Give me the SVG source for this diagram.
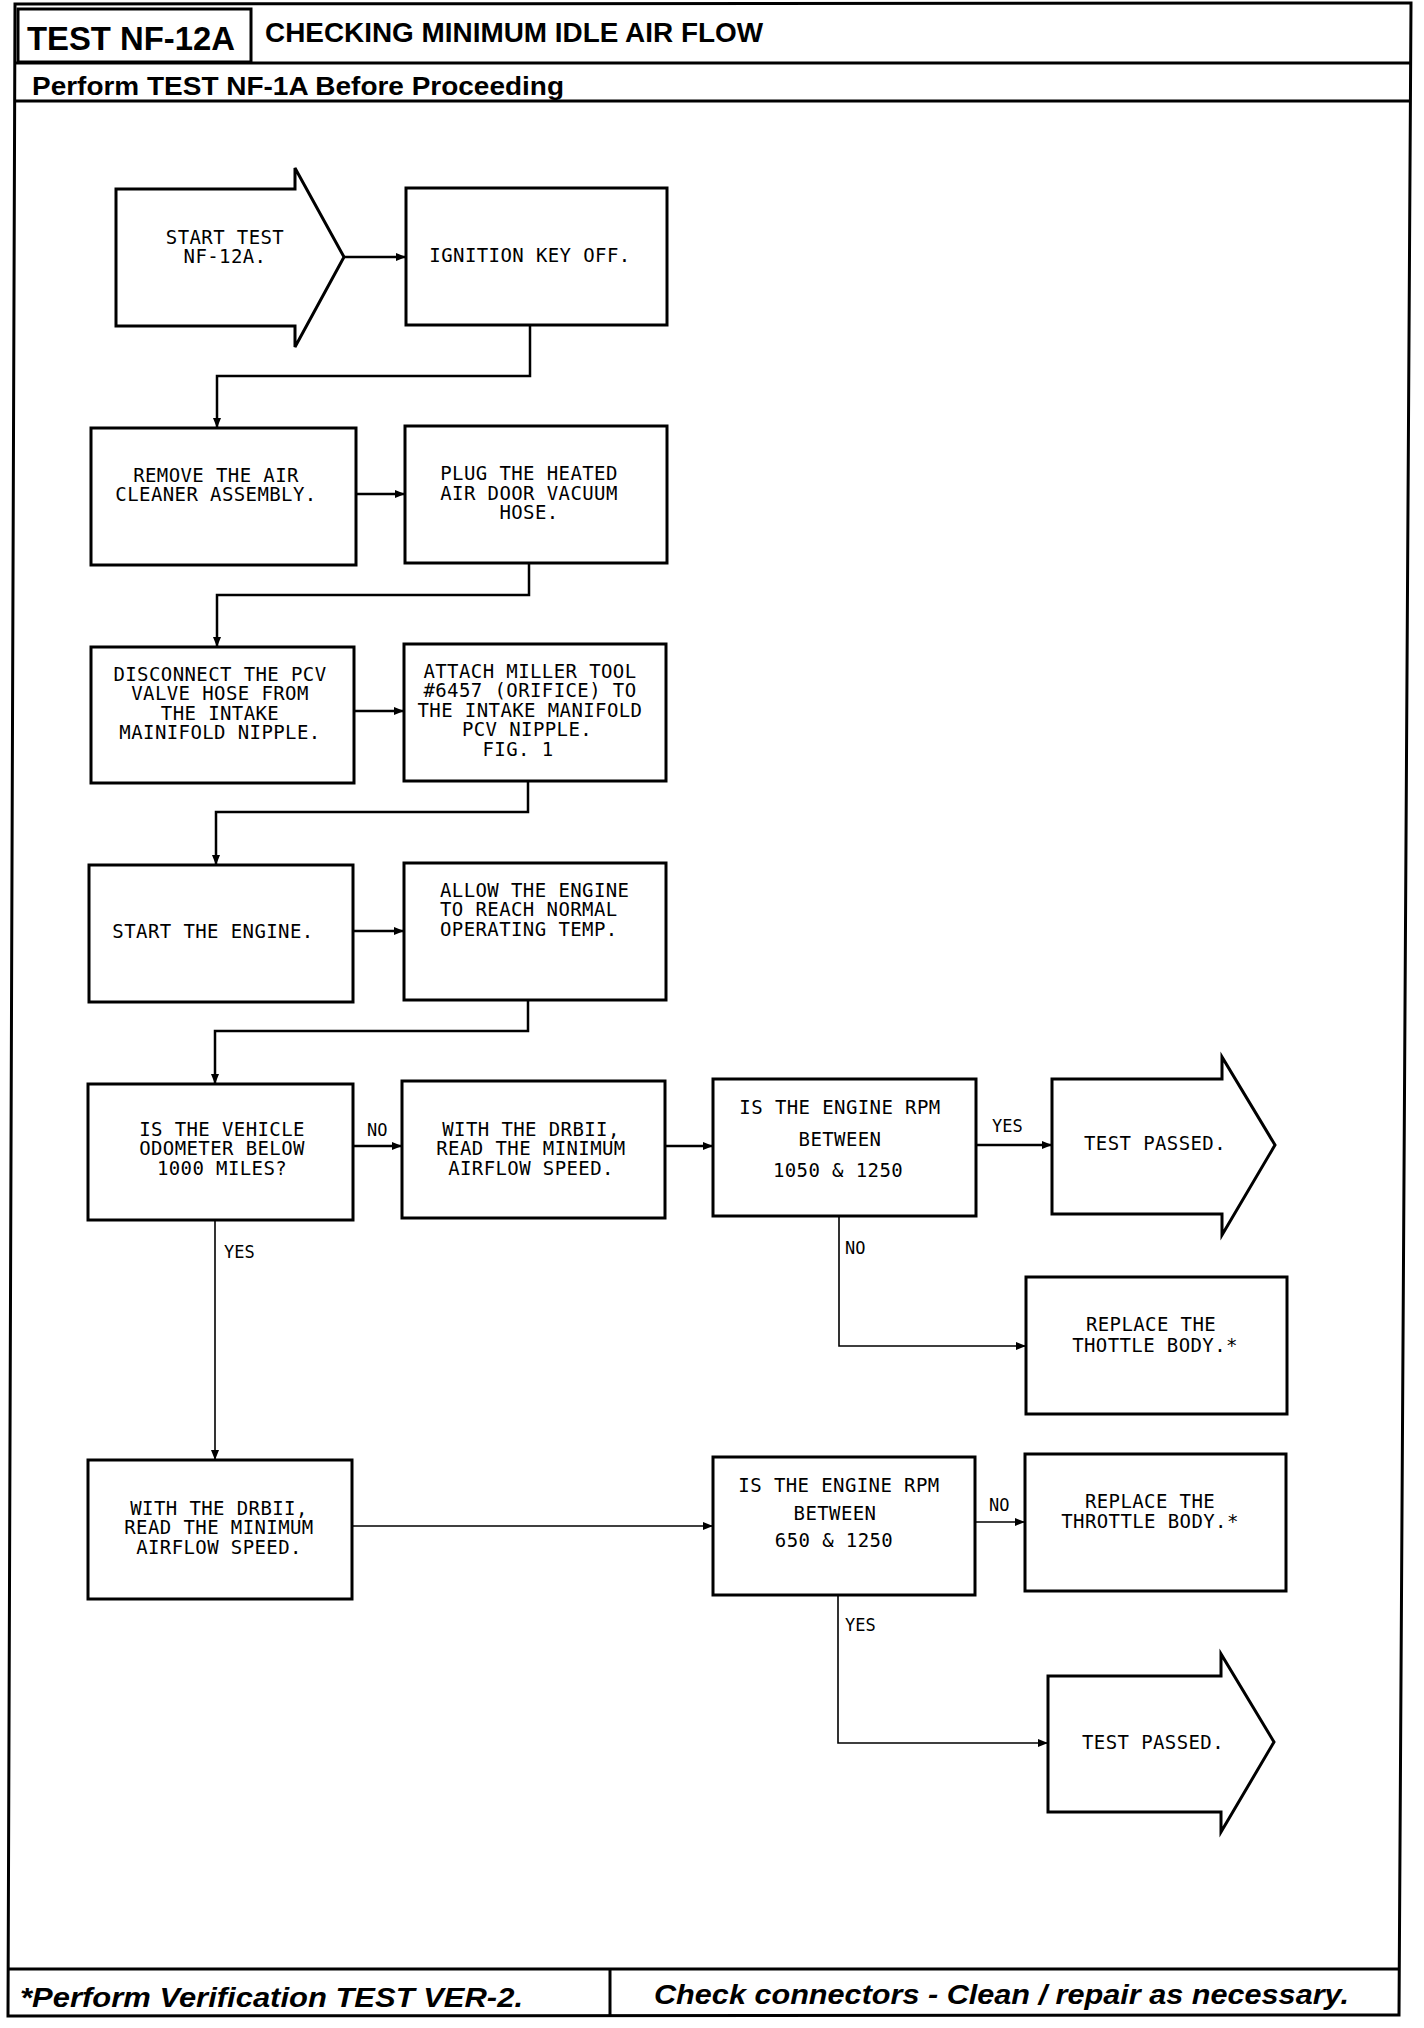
<svg xmlns="http://www.w3.org/2000/svg" width="1424" height="2028" viewBox="0 0 1424 2028">
<defs>
<style>
.frame{fill:none;stroke:#000;stroke-width:3}
.box{fill:#fff;stroke:#000;stroke-width:3}
.conn{fill:none;stroke:#000;stroke-width:2.5}
.thin{fill:none;stroke:#000;stroke-width:1.6}
.t{font-family:"DejaVu Sans Mono","Liberation Mono",monospace;font-size:19px;letter-spacing:0.4px;fill:#000;text-anchor:middle}
.tl{font-family:"DejaVu Sans Mono","Liberation Mono",monospace;font-size:19px;letter-spacing:0.4px;fill:#000}
.lab{font-family:"DejaVu Sans Mono","Liberation Mono",monospace;font-size:17px;fill:#000}
.hd{font-family:"Liberation Sans",Arial,sans-serif;font-weight:bold;fill:#000}
.ft{font-family:"Liberation Sans",Arial,sans-serif;font-weight:bold;font-style:italic;fill:#000}
</style>
<marker id="ah" viewBox="0 0 10 8" refX="10" refY="4" markerWidth="10" markerHeight="8" markerUnits="userSpaceOnUse" orient="auto">
<path d="M0,0 L10,4 L0,8 Z" fill="#000"/>
</marker>
</defs>
<rect width="1424" height="2028" fill="#fff"/>
<g id="frame">
<path class="frame" d="M15,4 L1411,3 L1399,2015 L8,2016 Z"/>
<rect class="frame" x="18" y="9" width="233" height="53"/>
<line class="frame" x1="15" y1="63" x2="1410" y2="63"/>
<line class="frame" x1="15" y1="101" x2="1410" y2="101"/>
<line class="frame" x1="8" y1="1969" x2="1400" y2="1969"/>
<line class="frame" x1="610" y1="1969" x2="610" y2="2015"/>
<text class="hd" x="27" y="50" font-size="33" textLength="208" lengthAdjust="spacingAndGlyphs">TEST NF-12A</text>
<text class="hd" x="265" y="42" font-size="27" textLength="498" lengthAdjust="spacingAndGlyphs">CHECKING MINIMUM IDLE AIR FLOW</text>
<text class="hd" x="32" y="95" font-size="26" textLength="532" lengthAdjust="spacingAndGlyphs">Perform TEST NF-1A Before Proceeding</text>
<text class="ft" x="20" y="2007" font-size="28" textLength="503" lengthAdjust="spacingAndGlyphs">*Perform Verification TEST VER-2.</text>
<text class="ft" x="654" y="2004" font-size="28" textLength="695" lengthAdjust="spacingAndGlyphs">Check connectors - Clean / repair as necessary.</text>
</g>
<g id="connectors">
<path class="conn" marker-end="url(#ah)" d="M344,257 H406"/>
<path class="conn" marker-end="url(#ah)" d="M530,325 V376 H217 V428"/>
<path class="conn" marker-end="url(#ah)" d="M356,494 H405"/>
<path class="conn" marker-end="url(#ah)" d="M529,563 V595 H217 V647"/>
<path class="conn" marker-end="url(#ah)" d="M354,711 H404"/>
<path class="conn" marker-end="url(#ah)" d="M528,781 V812 H216 V865"/>
<path class="conn" marker-end="url(#ah)" d="M353,931 H404"/>
<path class="conn" marker-end="url(#ah)" d="M528,1000 V1031 H215 V1084"/>
<path class="conn" marker-end="url(#ah)" d="M353,1146 H402"/>
<path class="conn" marker-end="url(#ah)" d="M665,1146 H713"/>
<path class="conn" marker-end="url(#ah)" d="M976,1145 H1052"/>
<path class="thin" marker-end="url(#ah)" d="M839,1216 V1346 H1026"/>
<path class="thin" marker-end="url(#ah)" d="M215,1220 V1460"/>
<path class="thin" marker-end="url(#ah)" d="M352,1526 H713"/>
<path class="thin" marker-end="url(#ah)" d="M975,1522 H1025"/>
<path class="thin" marker-end="url(#ah)" d="M838,1595 V1743 H1048"/>
<text class="lab" x="367" y="1136">NO</text>
<text class="lab" x="992" y="1132">YES</text>
<text class="lab" x="845" y="1254">NO</text>
<text class="lab" x="224" y="1258">YES</text>
<text class="lab" x="989" y="1511">NO</text>
<text class="lab" x="845" y="1631">YES</text>
</g>
<g id="start">
<polygon class="box" points="116,189 295,189 295,168 344,257 295,347 295,326 116,326"/>
<text class="t" x="225" y="244">START TEST</text>
<text class="t" x="225" y="263">NF-12A.</text>
</g>
<g id="ignition">
<rect class="box" x="406" y="188" width="261" height="137"/>
<text class="t" x="530" y="262">IGNITION KEY OFF.</text>
</g>
<g id="remove">
<rect class="box" x="91" y="428" width="265" height="137"/>
<text class="t" x="216" y="482">REMOVE THE AIR</text>
<text class="t" x="216" y="501">CLEANER ASSEMBLY.</text>
</g>
<g id="plug">
<rect class="box" x="405" y="426" width="262" height="137"/>
<text class="t" x="529" y="480">PLUG THE HEATED</text>
<text class="t" x="529" y="500">AIR DOOR VACUUM</text>
<text class="t" x="529" y="519">HOSE.</text>
</g>
<g id="disconnect">
<rect class="box" x="91" y="647" width="263" height="136"/>
<text class="t" x="220" y="681">DISCONNECT THE PCV</text>
<text class="t" x="220" y="700">VALVE HOSE FROM</text>
<text class="t" x="220" y="720">THE INTAKE</text>
<text class="t" x="220" y="739">MAINIFOLD NIPPLE.</text>
</g>
<g id="attach">
<rect class="box" x="404" y="644" width="262" height="137"/>
<text class="t" x="530" y="678">ATTACH MILLER TOOL</text>
<text class="t" x="530" y="697">#6457 (ORIFICE) TO</text>
<text class="t" x="530" y="717">THE INTAKE MANIFOLD</text>
<text class="t" x="527" y="736">PCV NIPPLE.</text>
<text class="t" x="518" y="756">FIG. 1</text>
</g>
<g id="start-engine">
<rect class="box" x="89" y="865" width="264" height="137"/>
<text class="t" x="213" y="938">START THE ENGINE.</text>
</g>
<g id="allow">
<rect class="box" x="404" y="863" width="262" height="137"/>
<text class="tl" x="440" y="897">ALLOW THE ENGINE</text>
<text class="tl" x="440" y="916">TO REACH NORMAL</text>
<text class="tl" x="440" y="936">OPERATING TEMP.</text>
</g>
<g id="odometer">
<rect class="box" x="88" y="1084" width="265" height="136"/>
<text class="t" x="222" y="1136">IS THE VEHICLE</text>
<text class="t" x="222" y="1155">ODOMETER BELOW</text>
<text class="t" x="222" y="1175">1000 MILES?</text>
</g>
<g id="drbii-1">
<rect class="box" x="402" y="1081" width="263" height="137"/>
<text class="t" x="531" y="1136">WITH THE DRBII,</text>
<text class="t" x="531" y="1155">READ THE MINIMUM</text>
<text class="t" x="531" y="1175">AIRFLOW SPEED.</text>
</g>
<g id="rpm-1">
<rect class="box" x="713" y="1079" width="263" height="137"/>
<text class="t" x="840" y="1114">IS THE ENGINE RPM</text>
<text class="t" x="840" y="1146">BETWEEN</text>
<text class="t" x="838" y="1177">1050 &amp; 1250</text>
</g>
<g id="passed-1">
<polygon class="box" points="1052,1079 1222,1079 1222,1057 1275,1145 1222,1235 1222,1214 1052,1214"/>
<text class="t" x="1155" y="1150">TEST PASSED.</text>
</g>
<g id="replace-1">
<rect class="box" x="1026" y="1277" width="261" height="137"/>
<text class="t" x="1151" y="1331">REPLACE THE</text>
<text class="t" x="1155" y="1352">THOTTLE BODY.*</text>
</g>
<g id="drbii-2">
<rect class="box" x="88" y="1460" width="264" height="139"/>
<text class="t" x="219" y="1515">WITH THE DRBII,</text>
<text class="t" x="219" y="1534">READ THE MINIMUM</text>
<text class="t" x="219" y="1554">AIRFLOW SPEED.</text>
</g>
<g id="rpm-2">
<rect class="box" x="713" y="1457" width="262" height="138"/>
<text class="t" x="839" y="1492">IS THE ENGINE RPM</text>
<text class="t" x="835" y="1520">BETWEEN</text>
<text class="t" x="834" y="1547">650 &amp; 1250</text>
</g>
<g id="replace-2">
<rect class="box" x="1025" y="1454" width="261" height="137"/>
<text class="t" x="1150" y="1508">REPLACE THE</text>
<text class="t" x="1150" y="1528">THROTTLE BODY.*</text>
</g>
<g id="passed-2">
<polygon class="box" points="1048,1676 1221,1676 1221,1654 1274,1742 1221,1832 1221,1812 1048,1812"/>
<text class="t" x="1153" y="1749">TEST PASSED.</text>
</g>
</svg>
